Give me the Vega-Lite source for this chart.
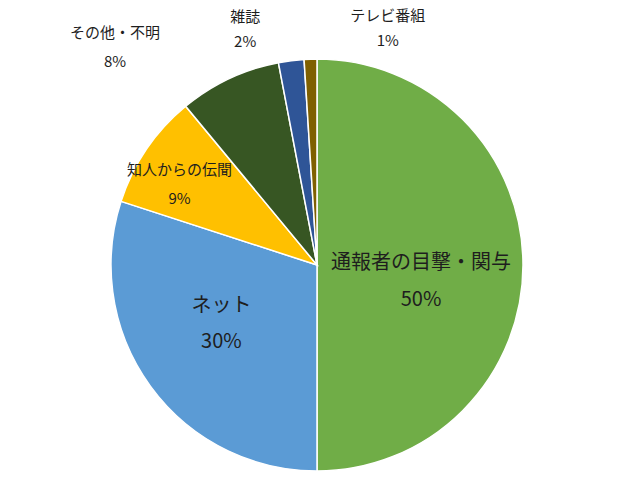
{
  "$schema": "https://vega.github.io/schema/vega-lite/v6.json",
  "width": 634,
  "height": 430,
  "autosize": "none",
  "padding": {"left": 0, "top": 50, "right": 6, "bottom": 0},
  "background": "white",
  "config": {"view": {"stroke": null}, "text": {"font": "Noto Sans CJK JP"}},
  "data": {
    "values": [
      {"cat": "通報者の目撃・関与", "value": 50, "order": 1},
      {"cat": "ネット", "value": 30, "order": 2},
      {"cat": "知人からの伝聞", "value": 9, "order": 3},
      {"cat": "その他・不明", "value": 8, "order": 4},
      {"cat": "雑誌", "value": 2, "order": 5},
      {"cat": "テレビ番組", "value": 1, "order": 6}
    ]
  },
  "transform": [{"calculate": "[datum.cat, datum.value + '%']", "as": "label"}],
  "encoding": {
    "theta": {"field": "value", "type": "quantitative", "stack": true},
    "order": {"field": "order", "type": "quantitative"}
  },
  "layer": [
    {
      "mark": {"type": "arc", "outerRadius": 206, "stroke": "white", "strokeWidth": 1.5},
      "encoding": {
        "color": {
          "field": "cat",
          "type": "nominal",
          "scale": {
            "domain": ["通報者の目撃・関与", "ネット", "知人からの伝聞", "その他・不明", "雑誌", "テレビ番組"],
            "range": ["#70AD47", "#5B9BD5", "#FFC000", "#375623", "#2F5597", "#7F6000"]
          },
          "legend": null
        }
      }
    },
    {
      "mark": {"type": "text", "radius": 104, "dy": -2, "fontSize": 20, "lineHeight": 37, "color": "#1e1e1e"},
      "encoding": {"text": {"condition": {"test": "datum.cat === '通報者の目撃・関与'", "field": "label", "type": "nominal"}, "value": ""}}
    },
    {
      "mark": {"type": "text", "radius": 112, "dx": -5, "dy": -25, "fontSize": 20, "lineHeight": 36, "color": "#1e1e1e"},
      "encoding": {"text": {"condition": {"test": "datum.cat === 'ネット'", "field": "label", "type": "nominal"}, "value": ""}}
    },
    {
      "mark": {"type": "text", "radius": 159, "dx": -6, "dy": -6, "fontSize": 15, "lineHeight": 29, "color": "#1e1e1e"},
      "encoding": {"text": {"condition": {"test": "datum.cat === '知人からの伝聞'", "field": "label", "type": "nominal"}, "value": ""}}
    },
    {
      "mark": {"type": "text", "radius": 230, "dx": -104, "dy": -24, "fontSize": 15, "lineHeight": 29, "color": "#1e1e1e"},
      "encoding": {"text": {"condition": {"test": "datum.cat === 'その他・不明'", "field": "label", "type": "nominal"}, "value": ""}}
    },
    {
      "mark": {"type": "text", "radius": 230, "dx": -43, "dy": -20, "fontSize": 15, "lineHeight": 25, "color": "#1e1e1e"},
      "encoding": {"text": {"condition": {"test": "datum.cat === '雑誌'", "field": "label", "type": "nominal"}, "value": ""}}
    },
    {
      "mark": {"type": "text", "radius": 230, "dx": 78, "dy": -19, "fontSize": 15, "lineHeight": 25, "color": "#1e1e1e"},
      "encoding": {"text": {"condition": {"test": "datum.cat === 'テレビ番組'", "field": "label", "type": "nominal"}, "value": ""}}
    }
  ]
}
